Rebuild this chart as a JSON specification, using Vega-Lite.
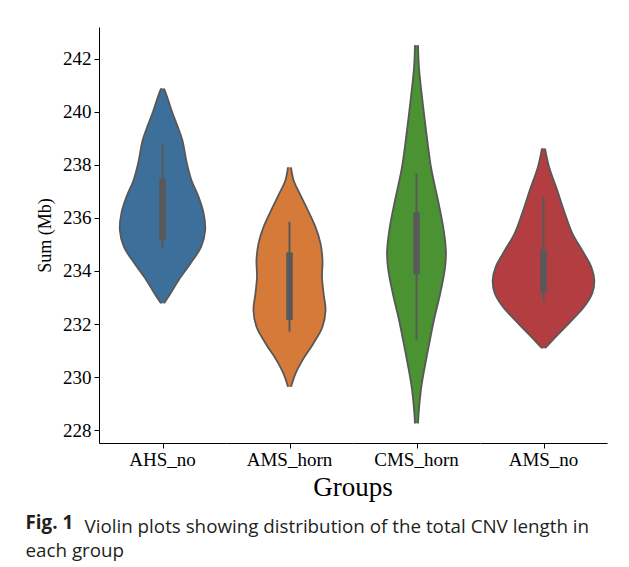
{
  "$schema": "https://vega.github.io/schema/vega-lite/v6.json",
  "padding": {"left": 25, "top": 27, "right": 5, "bottom": 5},
  "background": "white",
  "title": {
    "text": "Fig. 1",
    "subtitle": "each group",
    "orient": "bottom",
    "anchor": "start",
    "font": "Open Sans",
    "fontSize": 18.8,
    "fontWeight": "bold",
    "color": "#231f20",
    "subtitleFont": "Open Sans",
    "subtitleFontSize": 18.8,
    "subtitleColor": "#231f20",
    "subtitlePadding": 9,
    "offset": -23,
    "dx": -11
  },
  "vconcat": [
    {
      "title": {
        "text": "Violin plots showing distribution of the total CNV length in",
        "orient": "bottom",
        "anchor": "start",
        "font": "Open Sans",
        "fontSize": 18.8,
        "fontWeight": "normal",
        "color": "#231f20",
        "dx": 48,
        "offset": 17
      },
      "data": {
        "values": [
          {"g": "AHS_no", "kind": "v", "value": 240.87, "w": 0.03},
          {"g": "AHS_no", "kind": "v", "value": 240.56, "w": 0.09},
          {"g": "AHS_no", "kind": "v", "value": 239.93, "w": 0.2},
          {"g": "AHS_no", "kind": "v", "value": 239.43, "w": 0.3},
          {"g": "AHS_no", "kind": "v", "value": 238.93, "w": 0.39},
          {"g": "AHS_no", "kind": "v", "value": 238.05, "w": 0.48},
          {"g": "AHS_no", "kind": "v", "value": 237.42, "w": 0.57},
          {"g": "AHS_no", "kind": "v", "value": 236.79, "w": 0.71},
          {"g": "AHS_no", "kind": "v", "value": 236.17, "w": 0.81},
          {"g": "AHS_no", "kind": "v", "value": 235.54, "w": 0.84},
          {"g": "AHS_no", "kind": "v", "value": 234.91, "w": 0.76},
          {"g": "AHS_no", "kind": "v", "value": 234.28, "w": 0.55},
          {"g": "AHS_no", "kind": "v", "value": 233.66, "w": 0.32},
          {"g": "AHS_no", "kind": "v", "value": 233.16, "w": 0.16},
          {"g": "AHS_no", "kind": "v", "value": 232.78, "w": 0.03},
          {"g": "AMS_horn", "kind": "v", "value": 237.9, "w": 0.03},
          {"g": "AMS_horn", "kind": "v", "value": 237.42, "w": 0.08},
          {"g": "AMS_horn", "kind": "v", "value": 236.92, "w": 0.2},
          {"g": "AMS_horn", "kind": "v", "value": 236.29, "w": 0.36},
          {"g": "AMS_horn", "kind": "v", "value": 235.66, "w": 0.51},
          {"g": "AMS_horn", "kind": "v", "value": 235.04, "w": 0.61},
          {"g": "AMS_horn", "kind": "v", "value": 234.41, "w": 0.65},
          {"g": "AMS_horn", "kind": "v", "value": 233.78, "w": 0.64},
          {"g": "AMS_horn", "kind": "v", "value": 233.16, "w": 0.67},
          {"g": "AMS_horn", "kind": "v", "value": 232.53, "w": 0.71},
          {"g": "AMS_horn", "kind": "v", "value": 231.9, "w": 0.65},
          {"g": "AMS_horn", "kind": "v", "value": 231.27, "w": 0.47},
          {"g": "AMS_horn", "kind": "v", "value": 230.65, "w": 0.26},
          {"g": "AMS_horn", "kind": "v", "value": 230.14, "w": 0.12},
          {"g": "AMS_horn", "kind": "v", "value": 229.64, "w": 0.03},
          {"g": "CMS_horn", "kind": "v", "value": 242.5, "w": 0.03},
          {"g": "CMS_horn", "kind": "v", "value": 241.62, "w": 0.05},
          {"g": "CMS_horn", "kind": "v", "value": 240.37, "w": 0.12},
          {"g": "CMS_horn", "kind": "v", "value": 239.11, "w": 0.2},
          {"g": "CMS_horn", "kind": "v", "value": 237.86, "w": 0.29},
          {"g": "CMS_horn", "kind": "v", "value": 236.6, "w": 0.43},
          {"g": "CMS_horn", "kind": "v", "value": 235.6, "w": 0.53},
          {"g": "CMS_horn", "kind": "v", "value": 234.72, "w": 0.58},
          {"g": "CMS_horn", "kind": "v", "value": 234.1, "w": 0.56},
          {"g": "CMS_horn", "kind": "v", "value": 233.09, "w": 0.46},
          {"g": "CMS_horn", "kind": "v", "value": 232.21, "w": 0.35},
          {"g": "CMS_horn", "kind": "v", "value": 230.96, "w": 0.22},
          {"g": "CMS_horn", "kind": "v", "value": 229.7, "w": 0.1},
          {"g": "CMS_horn", "kind": "v", "value": 228.83, "w": 0.05},
          {"g": "CMS_horn", "kind": "v", "value": 228.26, "w": 0.03},
          {"g": "AMS_no", "kind": "v", "value": 238.61, "w": 0.03},
          {"g": "AMS_no", "kind": "v", "value": 237.92, "w": 0.11},
          {"g": "AMS_no", "kind": "v", "value": 237.04, "w": 0.27},
          {"g": "AMS_no", "kind": "v", "value": 236.17, "w": 0.42},
          {"g": "AMS_no", "kind": "v", "value": 235.41, "w": 0.57},
          {"g": "AMS_no", "kind": "v", "value": 234.78, "w": 0.76},
          {"g": "AMS_no", "kind": "v", "value": 234.16, "w": 0.94},
          {"g": "AMS_no", "kind": "v", "value": 233.66, "w": 1.0},
          {"g": "AMS_no", "kind": "v", "value": 233.16, "w": 0.96},
          {"g": "AMS_no", "kind": "v", "value": 232.65, "w": 0.8},
          {"g": "AMS_no", "kind": "v", "value": 232.03, "w": 0.5},
          {"g": "AMS_no", "kind": "v", "value": 231.52, "w": 0.24},
          {"g": "AMS_no", "kind": "v", "value": 231.09, "w": 0.03},
          {"g": "AHS_no", "kind": "b", "lo": 234.85, "q1": 235.16, "q3": 237.48, "hi": 238.82},
          {"g": "AMS_horn", "kind": "b", "lo": 231.71, "q1": 232.15, "q3": 234.7, "hi": 235.85},
          {"g": "CMS_horn", "kind": "b", "lo": 231.42, "q1": 233.88, "q3": 236.2, "hi": 237.67},
          {"g": "AMS_no", "kind": "b", "lo": 232.84, "q1": 233.18, "q3": 234.81, "hi": 236.79}
        ]
      },
      "facet": {
        "column": {
          "field": "g",
          "type": "nominal",
          "sort": ["AHS_no", "AMS_horn", "CMS_horn", "AMS_no"],
          "title": "Groups",
          "header": {
            "labelOrient": "bottom",
            "titleOrient": "bottom",
            "labelFont": "Liberation Serif",
            "labelFontSize": 19,
            "labelColor": "black",
            "labelPadding": 2,
            "titleFont": "Liberation Serif",
            "titleFontSize": 27,
            "titleFontWeight": "normal",
            "titleColor": "black",
            "titlePadding": -5
          }
        }
      },
      "spacing": 0,
      "resolve": {"scale": {"x": "independent"}, "axis": {"x": "independent"}},
      "spec": {
        "width": 127,
        "height": 416,
        "resolve": {"scale": {"x": "independent"}, "axis": {"x": "independent"}},
        "encoding": {
          "y": {
            "field": "value",
            "type": "quantitative",
            "title": "Sum (Mb)",
            "scale": {"domain": [227.52, 243.19], "nice": false, "zero": false},
            "axis": {
              "values": [228, 230, 232, 234, 236, 238, 240, 242],
              "grid": false,
              "tickSize": 5,
              "tickColor": "black",
              "domainColor": "black",
              "labelFont": "Liberation Serif",
              "labelFontSize": 19,
              "labelColor": "black",
              "labelPadding": 3,
              "titleFont": "Liberation Serif",
              "titleFontSize": 18,
              "titleFontWeight": "normal",
              "titleColor": "black",
              "titlePadding": 8
            }
          }
        },
        "layer": [
          {
            "transform": [{"filter": "datum.kind === 'v'"}],
            "mark": {"type": "area", "orient": "horizontal", "interpolate": "catmull-rom", "opacity": 1},
            "encoding": {
              "x": {
                "field": "w",
                "type": "quantitative",
                "stack": null,
                "title": null,
                "scale": {"domain": [-1.25, 1.25], "nice": false, "zero": false},
                "axis": {"values": [0], "labels": false, "grid": false, "tickSize": 5, "tickColor": "black", "domainColor": "black", "title": null}
              },
              "x2": {"datum": -0.04},
              "color": {
                "field": "g",
                "type": "nominal",
                "legend": null,
                "scale": {
                  "domain": ["AHS_no", "AMS_horn", "CMS_horn", "AMS_no"],
                  "range": ["#3c6f99", "#d57a39", "#4a9232", "#b33e41"]
                }
              }
            }
          },
          {
            "transform": [{"filter": "datum.kind === 'v'"}],
            "mark": {"type": "area", "orient": "horizontal", "interpolate": "catmull-rom", "opacity": 1},
            "encoding": {
              "x": {
                "field": "w",
                "type": "quantitative",
                "stack": null,
                "title": null,
                "scale": {"domain": [-1.25, 1.25], "nice": false, "zero": false, "reverse": true},
                "axis": null
              },
              "color": {"field": "g", "type": "nominal", "legend": null}
            }
          },
          {
            "transform": [{"filter": "datum.kind === 'v'"}],
            "mark": {"type": "line", "interpolate": "catmull-rom", "color": "#585858", "strokeWidth": 1.8},
            "encoding": {
              "x": {"field": "w", "type": "quantitative", "scale": {"domain": [-1.25, 1.25], "nice": false, "zero": false}, "axis": null},
              "order": {"field": "value", "type": "quantitative"},
              "detail": {"field": "g", "type": "nominal"}
            }
          },
          {
            "transform": [{"filter": "datum.kind === 'v'"}],
            "mark": {"type": "line", "interpolate": "catmull-rom", "color": "#585858", "strokeWidth": 1.8},
            "encoding": {
              "x": {"field": "w", "type": "quantitative", "scale": {"domain": [-1.25, 1.25], "nice": false, "zero": false, "reverse": true}, "axis": null},
              "order": {"field": "value", "type": "quantitative"},
              "detail": {"field": "g", "type": "nominal"}
            }
          },
          {
            "transform": [{"filter": "datum.kind === 'b'"}],
            "mark": {"type": "rule", "color": "#595959", "strokeWidth": 2},
            "encoding": {
              "x": {"datum": 0, "type": "quantitative", "scale": {"domain": [-1.25, 1.25], "nice": false, "zero": false}, "axis": null},
              "y": {"field": "lo", "type": "quantitative", "title": "Sum (Mb)"},
              "y2": {"field": "hi"}
            }
          },
          {
            "transform": [{"filter": "datum.kind === 'b'"}],
            "mark": {"type": "rule", "color": "#595959", "strokeWidth": 6.5, "strokeCap": "butt"},
            "encoding": {
              "x": {"datum": 0, "type": "quantitative", "scale": {"domain": [-1.25, 1.25], "nice": false, "zero": false}, "axis": null},
              "y": {"field": "q1", "type": "quantitative", "title": "Sum (Mb)"},
              "y2": {"field": "q3"}
            }
          }
        ]
      }
    }
  ],
  "config": {"view": {"stroke": null}}
}
